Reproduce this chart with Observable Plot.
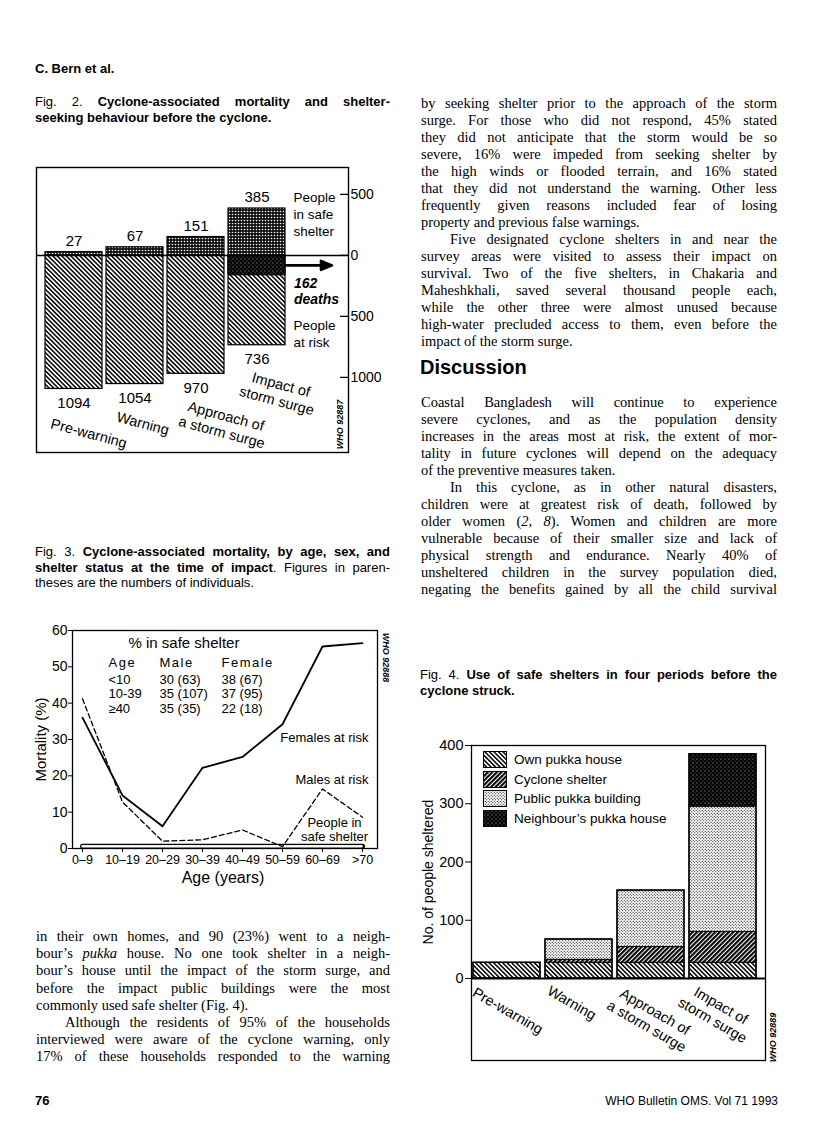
<!DOCTYPE html>
<html><head><meta charset="utf-8">
<script src="https://cdn.jsdelivr.net/npm/d3@7"></script>
<script src="https://cdn.jsdelivr.net/npm/@observablehq/plot@0.6"></script>
<style>
body{margin:0;background:#fff;}
#page{position:relative;width:816px;height:1133px;background:#fff;overflow:hidden;color:#000;}
.ln{position:absolute;text-align:justify;color:#000;}
.abs{position:absolute;}
</style></head><body><div id="page">
<svg width="0" height="0" style="position:absolute;left:0;top:0">
<defs>
<pattern id="pBack" patternUnits="userSpaceOnUse" width="3.2" height="3.2" patternTransform="rotate(-45)">
<rect width="3.2" height="3.2" fill="#fff"/><rect width="1.5" height="3.2" fill="#000"/></pattern>
<pattern id="pFwd" patternUnits="userSpaceOnUse" width="3.2" height="3.2" patternTransform="rotate(45)">
<rect width="3.2" height="3.2" fill="#fff"/><rect width="2.1" height="3.2" fill="#000"/></pattern>
<pattern id="pDark" patternUnits="userSpaceOnUse" width="3" height="3">
<rect width="3" height="3" fill="#111"/><circle cx="1.5" cy="1.5" r="0.8" fill="#fff"/></pattern>
<pattern id="pBlack" patternUnits="userSpaceOnUse" width="4" height="4">
<rect width="4" height="4" fill="#000"/><circle cx="1" cy="1" r="0.5" fill="#fff"/><circle cx="3" cy="3" r="0.4" fill="#fff"/></pattern>
<pattern id="pLight" patternUnits="userSpaceOnUse" width="3" height="3">
<rect width="3" height="3" fill="#fff"/><circle cx="0.75" cy="0.75" r="0.62" fill="#000"/><circle cx="2.25" cy="2.25" r="0.62" fill="#000"/></pattern>
</defs></svg>
</div>
<script>
const SANS = "'Liberation Sans', Arial, Helvetica, sans-serif";
const SERIF = "'Liberation Serif', 'Times New Roman', Times, serif";
const page = document.getElementById("page");

// ---------- Fig. 2 data ----------
const periods = ["Pre-warning", "Warning", "Approach of a storm surge", "Impact of storm surge"];
const periodLabels = ["Pre-warning", "Warning", "Approach of\na storm surge", "Impact of\nstorm surge"];
const inSafeShelter = [27, 67, 151, 385];
const atRisk = [1094, 1054, 970, 736];
const deaths = [0, 0, 0, 162];
const fig2Ticks = [500, 0, -500, -1000];

// ---------- Fig. 3 data ----------
const ageGroups = ["0–9", "10–19", "20–29", "30–39", "40–49", "50–59", "60–69", ">70"];
const femalesAtRisk = [36, 14.6, 6.1, 22.2, 25.2, 34.2, 55.6, 56.5];
const malesAtRisk = [41.2, 12.8, 2.0, 2.4, 5.1, 0.5, 16.4, 8.6];
const peopleInSafeShelter = [0.6, 0.6, 0.6, 0.6, 0.6, 0.6, 0.6, 0.6];
const fig3Ticks = [0, 10, 20, 30, 40, 50, 60];
const tableTitle = "% in safe shelter";
const tableHeader = ["Age", "Male", "Female"];
const tableRows = [["<10", "30 (63)", "38 (67)"], ["10-39", "35 (107)", "37 (95)"], ["≥40", "35 (35)", "22 (18)"]];

// ---------- Fig. 4 data ----------
const shelterTypes = ["Own pukka house", "Cyclone shelter", "Public pukka building", "Neighbour's pukka house"];
const ownPukkaHouse = [27, 27, 27, 27];
const cycloneShelter = [0, 5, 27, 53];
const publicPukkaBuilding = [0, 35, 97, 215];
const neighboursPukkaHouse = [0, 0, 0, 90];
const fig4Ticks = [0, 100, 200, 300, 400];

// ---------- helpers ----------
function place(el, left, top) {
  const d = document.createElement("div");
  d.className = "abs";
  d.style.left = left + "px"; d.style.top = top + "px";
  d.appendChild(el); page.appendChild(d); return el;
}
function textBlock(lines, {left, width, top, step, family, size, indent = 0, weight = "normal"}) {
  lines.forEach((raw, i) => {
    let s = raw, ind = false, end = false;
    if (s.startsWith("»")) { ind = true; s = s.slice(1); }
    if (s.endsWith("¶")) { end = true; s = s.slice(0, -1); }
    const d = document.createElement("div");
    d.className = "ln";
    const l = left + (ind ? indent : 0);
    d.style.cssText = `left:${l}px;top:${top + i * step}px;width:${width - (ind ? indent : 0)}px;font-family:${family};font-size:${size}px;font-weight:${weight};line-height:${step}px;text-align-last:${end ? "left" : "justify"};`;
    d.innerHTML = s;
    page.appendChild(d);
  });
}
const baseStyle = {fontFamily: SANS, fontSize: "14px", background: "transparent", overflow: "visible", color: "#000"};

// ---------- page text ----------
textBlock(["<b>C. Bern et al.</b>¶"], {left: 35, width: 300, top: 61, step: 16, family: SANS, size: 13});
textBlock([
  "Fig. 2. <b>Cyclone-associated mortality and shelter-</b>",
  "<b>seeking behaviour before the cyclone.</b>¶"
], {left: 35, width: 355, top: 94, step: 16, family: SANS, size: 13});
textBlock([
  "Fig. 3. <b>Cyclone-associated mortality, by age, sex, and</b>",
  "<b>shelter status at the time of impact</b>. Figures in paren-",
  "theses are the numbers of individuals.¶"
], {left: 35, width: 355, top: 544, step: 15.5, family: SANS, size: 13});
textBlock([
  "Fig. 4. <b>Use of safe shelters in four periods before the</b>",
  "<b>cyclone struck.</b>¶"
], {left: 420, width: 357, top: 667, step: 16, family: SANS, size: 13});

textBlock([
  "by seeking shelter prior to the approach of the storm",
  "surge. For those who did not respond, 45% stated",
  "they did not anticipate that the storm would be so",
  "severe, 16% were impeded from seeking shelter by",
  "the high winds or flooded terrain, and 16% stated",
  "that they did not understand the warning. Other less",
  "frequently given reasons included fear of losing",
  "property and previous false warnings.¶",
  "»Five designated cyclone shelters in and near the",
  "survey areas were visited to assess their impact on",
  "survival. Two of the five shelters, in Chakaria and",
  "Maheshkhali, saved several thousand people each,",
  "while the other three were almost unused because",
  "high-water precluded access to them, even before the",
  "impact of the storm surge.¶"
], {left: 421, width: 356, top: 95, step: 17, family: SERIF, size: 14.5, indent: 29});

textBlock(["<b>Discussion</b>¶"], {left: 420, width: 300, top: 355, step: 24, family: SANS, size: 20});

textBlock([
  "Coastal Bangladesh will continue to experience",
  "severe cyclones, and as the population density",
  "increases in the areas most at risk, the extent of mor-",
  "tality in future cyclones will depend on the adequacy",
  "of the preventive measures taken.¶",
  "»In this cyclone, as in other natural disasters,",
  "children were at greatest risk of death, followed by",
  "older women (<i>2, 8</i>). Women and children are more",
  "vulnerable because of their smaller size and lack of",
  "physical strength and endurance. Nearly 40% of",
  "unsheltered children in the survey population died,",
  "negating the benefits gained by all the child survival"
], {left: 421, width: 356, top: 394, step: 17, family: SERIF, size: 14.5, indent: 29});

textBlock([
  "in their own homes, and 90 (23%) went to a neigh-",
  "bour’s <i>pukka</i> house. No one took shelter in a neigh-",
  "bour’s house until the impact of the storm surge, and",
  "before the impact public buildings were the most",
  "commonly used safe shelter (Fig. 4).¶",
  "»Although the residents of 95% of the households",
  "interviewed were aware of the cyclone warning, only",
  "17% of these households responded to the warning"
], {left: 36, width: 354, top: 928, step: 17.2, family: SERIF, size: 14.5, indent: 29});

// footer
textBlock(["<b>76</b>¶"], {left: 35, width: 60, top: 1093, step: 16, family: SANS, size: 13});
{
  const f = document.createElement("div");
  f.className = "abs";
  f.style.cssText = `position:absolute;right:38px;top:1093px;line-height:16px;font-family:${SANS};font-size:12px;`;
  f.textContent = "WHO Bulletin OMS. Vol 71 1993";
  page.appendChild(f);
}

// ---------- Fig. 2 ----------
const fig2 = periods.map((p, i) => ({period: p, label: periodLabels[i], shelter: inSafeShelter[i], risk: -atRisk[i], deaths: -deaths[i]}));
const fig2LabelOffsets = [[15, 44], [8, 39], [28, 50], [22, 47]];
const tickShape = {draw(ctx, l) { ctx.moveTo(0, 0); ctx.lineTo(0, -l); }};
const arrowShape = {draw(ctx, l) {
  ctx.moveTo(0, 0); ctx.lineTo(0, -(l - 9));
  ctx.moveTo(-4.5, -(l - 11)); ctx.lineTo(0, -l); ctx.lineTo(4.5, -(l - 11)); ctx.closePath();
}};
const withDeaths = fig2.filter(d => d.deaths < 0);
const fig2Plot = Plot.plot({
  width: 400, height: 312, marginTop: 17, marginRight: 52, marginBottom: 10, marginLeft: 36,
  style: baseStyle,
  x: {domain: periods, paddingInner: 0.06, paddingOuter: 0, insetLeft: 7, insetRight: 61, axis: null},
  y: {domain: [-1615, 721], axis: null},
  marks: [
    Plot.barY(fig2, {x: "period", y1: 0, y2: "risk", fill: "url(#pBack)", stroke: "#000", strokeWidth: 1.2}),
    Plot.barY(withDeaths, {x: "period", y1: 0, y2: "deaths", fill: "url(#pBlack)", stroke: "#000", strokeWidth: 1.2}),
    Plot.barY(fig2, {x: "period", y1: 0, y2: "shelter", fill: "url(#pDark)", stroke: "#000", strokeWidth: 1.2}),
    Plot.ruleY([0], {stroke: "#000", strokeWidth: 1.6}),
    Plot.frame({stroke: "#000", strokeWidth: 1.4}),
    Plot.vector(fig2Ticks, {y: d => d, frameAnchor: "right", anchor: "start", rotate: -90, length: 8, shape: tickShape, stroke: "#000", strokeWidth: 1.2}),
    Plot.axisY(fig2Ticks, {anchor: "right", tickSize: 0, tickPadding: 2, tickFormat: d => String(Math.abs(d)), fontSize: 14, label: null}),
    Plot.text(fig2, {x: "period", y: "shelter", text: d => String(d.shelter), dy: -11, fontSize: 15}),
    Plot.text(fig2, {x: "period", y: "risk", text: d => String(-d.risk), dy: 14, fontSize: 15}),
    ...fig2.map((d, i) => Plot.text([d], {x: "period", y: "risk", text: "label", rotate: 15, dx: fig2LabelOffsets[i][0], dy: fig2LabelOffsets[i][1], fontSize: 14.5, lineHeight: 1.15, textAnchor: "middle", lineAnchor: "middle"})),
    Plot.vector(withDeaths, {x: "period", y: d => d.deaths / 2, dx: 29, anchor: "start", rotate: 90, length: 46, shape: arrowShape, stroke: "#000", fill: "#000", strokeWidth: 2.6}),
    Plot.text(withDeaths, {x: "period", y: "deaths", text: d => `${-d.deaths}\ndeaths`, dx: 37, dy: 2, textAnchor: "start", lineAnchor: "top", fontStyle: "italic", fontWeight: "bold", fontSize: 14, lineHeight: 1.1}),
    Plot.text(["People\nin safe\nshelter"], {x: () => periods[3], y: () => fig2Ticks[0], dx: 36.5, dy: -4, textAnchor: "start", lineAnchor: "top", fontSize: 13.5, lineHeight: 1.25}),
    Plot.text(["People\nat risk"], {x: () => periods[3], y: () => fig2Ticks[2], dx: 36.5, dy: 2, textAnchor: "start", lineAnchor: "top", fontSize: 13.5, lineHeight: 1.25}),
    Plot.text(["WHO 92887"], {frameAnchor: "bottom-right", dx: -8, dy: -28, rotate: -90, fontSize: 9, fontWeight: "bold", fontStyle: "italic", textAnchor: "middle", lineAnchor: "middle"})
  ]
});
place(fig2Plot, 0, 150);

// ---------- Fig. 3 ----------
const fem = ageGroups.map((a, i) => ({age: a, v: femalesAtRisk[i]}));
const mal = ageGroups.map((a, i) => ({age: a, v: malesAtRisk[i]}));
const shel = ageGroups.map((a, i) => ({age: a, v: peopleInSafeShelter[i]}));
const colX = [36, 87, 149];
const rowY = [49, 63.5, 78];
const tableMarks = [];
tableHeader.forEach((h, c) => tableMarks.push(Plot.text([h], {frameAnchor: "top-left", dx: colX[c], dy: 32, textAnchor: "start", lineAnchor: "middle", fontSize: 13})));
tableRows.forEach((row, r) => row.forEach((cell, c) => tableMarks.push(Plot.text([cell], {frameAnchor: "top-left", dx: colX[c], dy: rowY[r], textAnchor: "start", lineAnchor: "middle", fontSize: 13}))));
const fig3Plot = Plot.plot({
  width: 400, height: 275, marginTop: 15, marginRight: 23, marginBottom: 42, marginLeft: 72,
  style: baseStyle,
  x: {type: "point", domain: ageGroups, padding: 0, insetLeft: 7, insetRight: 12},
  y: {domain: [0, 60]},
  marks: [
    Plot.frame({stroke: "#000", strokeWidth: 1.3}),
    Plot.axisY({ticks: fig3Ticks, tickSize: 4, tickPadding: 1, fontSize: 14, label: null}),
    Plot.axisX({tickSize: 4, tickPadding: 3, fontSize: 12.5, label: null}),
    Plot.lineY(shel, {x: "age", y: "v", stroke: "#000", strokeWidth: 5}),
    Plot.lineY(shel, {x: "age", y: "v", stroke: "#fff", strokeWidth: 2.4, strokeDasharray: "2 1.6"}),
    Plot.lineY(mal, {x: "age", y: "v", stroke: "#000", strokeWidth: 1.3, strokeDasharray: "5 3"}),
    Plot.lineY(fem, {x: "age", y: "v", stroke: "#000", strokeWidth: 1.8}),
    Plot.text([tableTitle], {frameAnchor: "top-left", dx: 56, dy: 13, textAnchor: "start", lineAnchor: "middle", fontSize: 15}),
    ...tableMarks,
    Plot.text(["Females at risk"], {frameAnchor: "top-right", dx: -9, dy: 107, textAnchor: "end", lineAnchor: "middle", fontSize: 13}),
    Plot.text(["Males at risk"], {frameAnchor: "top-right", dx: -9, dy: 149, textAnchor: "end", lineAnchor: "middle", fontSize: 13}),
    Plot.text(["People in\nsafe shelter"], {frameAnchor: "top-right", dx: -43, dy: 199, textAnchor: "middle", lineAnchor: "middle", fontSize: 13, lineHeight: 1.08}),
    Plot.text(["Mortality (%)"], {frameAnchor: "left", dx: -31, rotate: -90, textAnchor: "middle", lineAnchor: "middle", fontSize: 15}),
    Plot.text(["Age (years)"], {frameAnchor: "bottom", dx: -2, dy: 29, textAnchor: "middle", lineAnchor: "middle", fontSize: 16}),
    Plot.text(["WHO 92888"], {frameAnchor: "top-right", dx: 8, dy: 27, rotate: 90, fontSize: 9, fontWeight: "bold", fontStyle: "italic", textAnchor: "middle", lineAnchor: "middle"})
  ]
});
d3.select(fig3Plot).selectAll("text").filter(function() { return tableHeader.includes(this.textContent); }).style("letter-spacing", "1.5px");
place(fig3Plot, 0, 615);

// ---------- Fig. 4 ----------
const fig4Fills = ["url(#pBack)", "url(#pFwd)", "url(#pLight)", "url(#pBlack)"];
const series = [ownPukkaHouse, cycloneShelter, publicPukkaBuilding, neighboursPukkaHouse];
const fig4Long = [];
periods.forEach((p, i) => series.forEach((arr, k) => { if (arr[i] > 0) fig4Long.push({period: p, type: shelterTypes[k], n: arr[i]}); }));
const fig4Totals = periods.map((p, i) => ({period: p, label: periodLabels[i], total: series.reduce((s, arr) => s + arr[i], 0)}));
const fig4LabelOffsets = [[1, 32], [-7, 24], [0, 40], [-6, 34]];
const fig4Plot = Plot.plot({
  width: 416, height: 340, marginTop: 15, marginRight: 51, marginBottom: 10, marginLeft: 71,
  style: baseStyle,
  x: {domain: periods, paddingInner: 0.066, paddingOuter: 0, insetLeft: 1, insetRight: 8, axis: null},
  y: {domain: [-140.8, 400], axis: null},
  color: {domain: shelterTypes, range: fig4Fills},
  marks: [
    Plot.barY(fig4Long, {x: "period", y: "n", fill: "type", stroke: "#000", strokeWidth: 1}),
    Plot.barY(fig4Totals, {x: "period", y: "total", fill: "none", stroke: "#000", strokeWidth: 1.4}),
    Plot.ruleY([0], {stroke: "#000", strokeWidth: 1.8}),
    Plot.frame({stroke: "#000", strokeWidth: 1.3}),
    Plot.axisY(fig4Ticks, {anchor: "left", tickSize: 6, tickPadding: 2, fontSize: 14.5, label: null}),
    Plot.text(["No. of people sheltered"], {frameAnchor: "left", dx: -43, dy: -31, rotate: -90, textAnchor: "middle", lineAnchor: "middle", fontSize: 14}),
    ...fig4Totals.map((d, i) => Plot.text([d], {x: "period", y: () => 0, text: "label", rotate: 30, dx: fig4LabelOffsets[i][0], dy: fig4LabelOffsets[i][1], fontSize: 14.5, lineHeight: 1.15, textAnchor: "middle", lineAnchor: "middle"})),
    Plot.text(["WHO 92889"], {frameAnchor: "bottom-right", dx: 8, dy: -23, rotate: -90, fontSize: 9, fontWeight: "bold", fontStyle: "italic", textAnchor: "middle", lineAnchor: "middle"})
  ]
});
place(fig4Plot, 400, 730);

// Fig. 4 legend (inside the plot frame)
shelterTypes.forEach((t, k) => {
  const top = 751 + k * 19.5;
  const sw = document.createElement("div");
  sw.className = "abs";
  sw.style.cssText = `position:absolute;left:483px;top:${top}px;width:24px;height:17px;`;
  sw.innerHTML = `<svg width="24" height="17" style="display:block"><rect x="0.5" y="0.5" width="23" height="16" fill="${fig4Fills[k]}" stroke="#000"/></svg>`;
  page.appendChild(sw);
  const lb = document.createElement("div");
  lb.className = "abs";
  lb.style.cssText = `position:absolute;left:514px;top:${top}px;line-height:17px;font-family:${SANS};font-size:13.5px;white-space:nowrap;`;
  lb.textContent = t.replace("'", "’");
  page.appendChild(lb);
});
</script></body></html>
